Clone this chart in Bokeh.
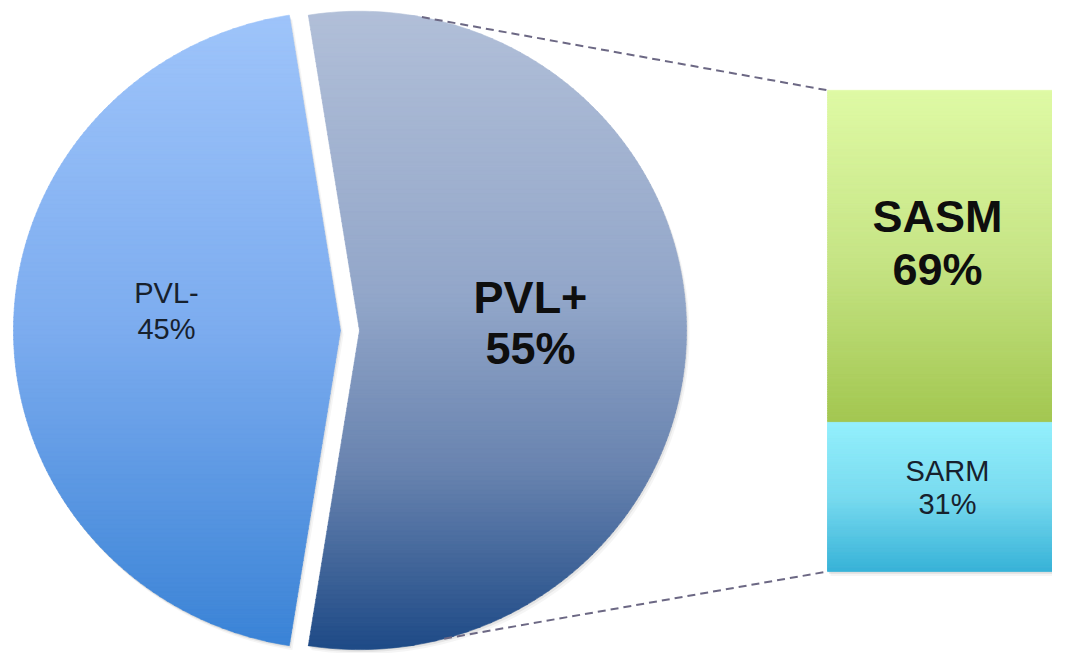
import numpy as np
from bokeh.plotting import figure
from bokeh.models import Range1d
from bokeh.embed import file_html
from bokeh.resources import INLINE
from bokeh.core.properties import value

# ---------------- data ----------------
pie_labels = ["PVL-", "PVL+"]
pie_values = [45, 55]
bar_labels = ["SASM", "SARM"]
bar_values = [69, 31]

# ---------------- layout / style ----------------
REF_H = 669
def Y(yref):
    return REF_H - yref

CX, CY, R = 340.0, Y(338), 327.0
EXPLODE = 19.0            # explosion of the split slice (px)
BAR_X0, BAR_X1 = 827.0, 1080.0
BAR_TOP, BAR_BOT = Y(92), Y(585)

pie_grad = [
    [(0.0, "#9EC4FA"), (0.5, "#7CACEF"), (1.0, "#3A83D6")],
    [(0.0, "#B1BFD8"), (0.45, "#92A6C9"), (0.72, "#6883AF"), (1.0, "#1E4A86")],
]
bar_grad = [
    [(0.0, "#DFFAA5"), (0.5, "#C7E586"), (1.0, "#A3C751")],
    [(0.0, "#94F0FD"), (0.5, "#79DBF0"), (1.0, "#38B3D8")],
]
pie_text = [
    dict(x=166, y=(300, 337), size=29, bold=False, color="#17212D"),
    dict(x=530, y=(304, 357), size=45, bold=True, color="#0E0E0E"),
]
bar_text = [
    dict(x=937, y=(221, 276), size=45, bold=True, color="#0E0E0E"),
    dict(x=947, y=(482, 516), size=29, bold=False, color="#17212D"),
]
CONN_ANGLES = (79.0, -75.0)
FONT = "Liberation Sans"

# ---------------- helpers ----------------
def hex_rgb(h):
    return np.array([int(h[i:i + 2], 16) for i in (1, 3, 5)], float)

def grad_color(stops, t):
    t = min(max(t, 0.0), 1.0)
    for (p0, c0), (p1, c1) in zip(stops[:-1], stops[1:]):
        if t <= p1:
            f = (t - p0) / (p1 - p0) if p1 > p0 else 0
            c = hex_rgb(c0) * (1 - f) + hex_rgb(c1) * f
            return "#%02x%02x%02x" % tuple(int(round(v)) for v in c)
    return stops[-1][1]

def clip(poly, yv, keep_ge):
    out = []
    n = len(poly)
    for i in range(n):
        P, Q = poly[i], poly[(i + 1) % n]
        pin = P[1] >= yv if keep_ge else P[1] <= yv
        qin = Q[1] >= yv if keep_ge else Q[1] <= yv
        if pin:
            out.append(P)
        if pin != qin:
            t = (yv - P[1]) / (Q[1] - P[1])
            out.append((P[0] + t * (Q[0] - P[0]), yv))
    return out

def gradient_bands(poly, stops, nb=140):
    ys = [q[1] for q in poly]
    ytop, ybot = max(ys), min(ys)
    xs_l, ys_l, cols = [], [], []
    step = (ytop - ybot) / nb
    for k in range(nb):
        y1 = ytop - k * step
        y0 = y1 - step - 0.6
        part = clip(clip(poly, y0, True), y1, False)
        if len(part) < 3:
            continue
        xs_l.append([q[0] for q in part])
        ys_l.append([q[1] for q in part])
        cols.append(grad_color(stops, (ytop - (y1 - step / 2)) / (ytop - ybot)))
    return xs_l, ys_l, cols

def sector(cx, cy, r, a0, a1, n=240):
    ang = np.radians(np.linspace(a0, a1, n))
    pts = [(cx, cy)] + [(cx + r * np.cos(a), cy + r * np.sin(a)) for a in ang]
    return pts

# ---------------- figure ----------------
p = figure(width=1052, height=653, x_range=Range1d(0, 1052), y_range=Range1d(0, REF_H),
           output_backend="svg", toolbar_location=None, min_border=0,
           x_axis_location=None, y_axis_location=None)
p.grid.visible = False
p.outline_line_color = None
p.background_fill_color = "white"
p.border_fill_color = "white"

# pie slices
total = float(sum(pie_values))
start = 180.0 - pie_values[0] / total * 180.0
shapes = []
centers = []
for i, v in enumerate(pie_values):
    span = v / total * 360.0
    a0, a1 = start, start + span
    mid = np.radians((a0 + a1) / 2)
    off = EXPLODE if i == 1 else 0.0
    cx, cy = CX + off * np.cos(mid), CY + off * np.sin(mid)
    centers.append((cx, cy))
    shapes.append((sector(cx, cy, R, a0, a1), pie_grad[i]))
    start = a1

# bar segments (stacked from bottom: last item at bottom)
btot = float(sum(bar_values))
bh = BAR_TOP - BAR_BOT
ycur = BAR_BOT
bar_rects = []
for i in reversed(range(len(bar_values))):
    h = bar_values[i] / btot * bh
    rect = [(BAR_X0, ycur), (BAR_X1, ycur), (BAR_X1, ycur + h), (BAR_X0, ycur + h)]
    bar_rects.append((i, rect))
    ycur += h
for i, rect in sorted(bar_rects):
    shapes.append((rect, bar_grad[i]))

# soft shadows
for dx, dy, a in [(1.5, -2.5, 0.10), (3.0, -4.5, 0.06), (0.0, -1.0, 0.08)]:
    p.patches([[q[0] + dx for q in s] for s, _ in shapes],
              [[q[1] + dy for q in s] for s, _ in shapes],
              fill_color="#555555", fill_alpha=a, line_color=None)

for poly, stops in shapes:
    xs_l, ys_l, cols = gradient_bands(poly, stops)
    p.patches(xs_l, ys_l, fill_color=cols, line_color=cols, line_width=0.6)

# connectors
pcx, pcy = centers[1]
for ang, by in zip(CONN_ANGLES, (BAR_TOP, BAR_BOT)):
    a = np.radians(ang)
    p.line([pcx + R * np.cos(a), BAR_X0], [pcy + R * np.sin(a), by],
           line_color="#6C6884", line_width=2, line_dash="8 5")

# labels
def put(lbl, pct, st):
    for txt, yy in zip((lbl, "%d%%" % pct), st["y"]):
        p.text(x=[st["x"]], y=[Y(yy)], text=[txt], text_font=value(FONT),
               text_font_size="%dpx" % st["size"],
               text_font_style="bold" if st["bold"] else "normal",
               text_color=st["color"], text_align="center", text_baseline="middle")

for lbl, v, st in zip(pie_labels, pie_values, pie_text):
    put(lbl, v, st)
for lbl, v, st in zip(bar_labels, bar_values, bar_text):
    put(lbl, v, st)

open("out.html", "w").write(file_html(p, INLINE))
